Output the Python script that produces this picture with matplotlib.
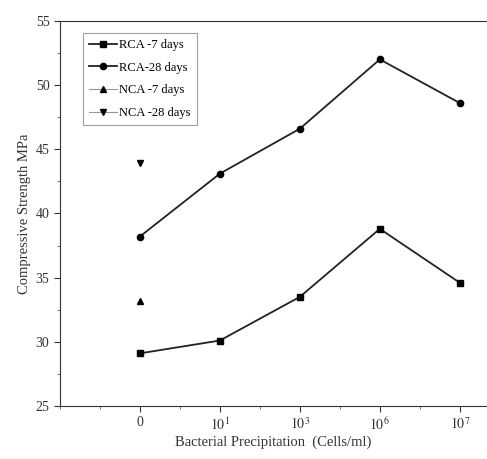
import matplotlib
matplotlib.use("Agg")
import matplotlib.pyplot as plt
from matplotlib.ticker import MultipleLocator

plt.rcParams['font.family'] = ['Liberation Serif', 'DejaVu Serif']
plt.rcParams['mathtext.fontset'] = 'stix'

# --- Data ---
x_pos = [0, 1, 2, 3, 4]
x_labels = ['0', r'$10^1$', r'$10^3$', r'$10^6$', r'$10^7$']
rca_7 = [29.1, 30.1, 33.5, 38.8, 34.6]
rca_28 = [38.2, 43.1, 46.6, 52.0, 48.6]
nca_x = [0]
nca_7 = [33.2]
nca_28 = [43.9]

fig = plt.figure(figsize=(4.87, 4.59), dpi=100)
ax = fig.add_axes([0.123, 0.1155, 0.877, 0.839])

ax.plot(x_pos, rca_7, color='#222222', lw=1.3, marker='s', ms=4.5, mfc='black', mec='black', label='RCA -7 days')
ax.plot(x_pos, rca_28, color='#222222', lw=1.3, marker='o', ms=4.5, mfc='black', mec='black', label='RCA-28 days')
ax.plot(nca_x, nca_7, color='#999999', lw=0.8, marker='^', ms=4.5, mfc='black', mec='black', label='NCA -7 days')
ax.plot(nca_x, nca_28, color='#999999', lw=0.8, marker='v', ms=4.5, mfc='black', mec='black', label='NCA -28 days')

ax.set_xlim(-1, 4.34)
ax.set_ylim(25, 55)
ax.set_xticks(x_pos)
ax.set_xticklabels(x_labels)
ax.xaxis.set_minor_locator(MultipleLocator(0.5))
ax.yaxis.set_major_locator(MultipleLocator(5))
ax.yaxis.set_minor_locator(MultipleLocator(2.5))
ax.tick_params(which='major', direction='out', length=4, width=0.8, labelsize=10, colors='#333333')
ax.tick_params(which='minor', direction='out', length=2, width=0.6, colors='#555555')
ax.spines['right'].set_visible(False)
for s in ['left', 'bottom', 'top']:
    ax.spines[s].set_color('#333333')

ax.set_xlabel('Bacterial Precipitation  (Cells/ml)', fontsize=10.5, color='#333333', labelpad=2)
ax.set_ylabel('Compressive Strength MPa', fontsize=10.5, color='#333333', labelpad=3)

leg = ax.legend(loc='upper left', bbox_to_anchor=(0.04, 0.985), fontsize=9, frameon=True,
                fancybox=False, edgecolor='#888888', handlelength=2.2, borderpad=0.5,
                labelspacing=0.85, handletextpad=0.2)
leg.get_frame().set_linewidth(0.8)

fig.savefig('out.png', dpi=100)
